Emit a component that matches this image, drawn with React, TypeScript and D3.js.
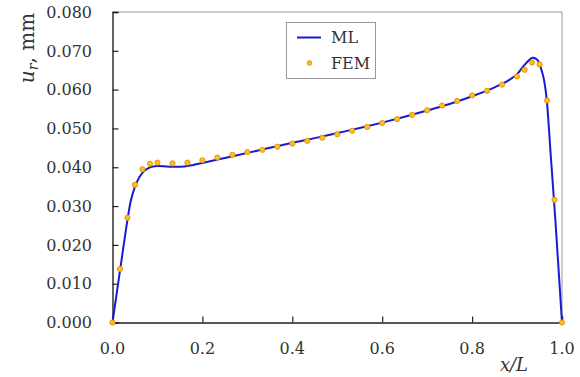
import { useEffect, useRef } from 'react';
import * as d3 from 'd3';

// ML prediction curve
const mlX = [0, 0.01, 0.02, 0.03, 0.04, 0.05, 0.06, 0.07, 0.08, 0.09, 0.1, 0.12, 0.14, 0.16, 0.18, 0.2,
    0.25, 0.3, 0.35, 0.4, 0.45, 0.5, 0.55, 0.6, 0.65, 0.7, 0.75, 0.8, 0.85, 0.88, 0.9, 0.92, 0.935,
    0.945, 0.955, 0.96, 0.966, 0.975, 0.985, 0.995, 1.0];
const mlY = [0, 0.008, 0.016, 0.024, 0.031, 0.035, 0.0375, 0.039, 0.0398, 0.0402, 0.0403, 0.0402,
    0.0401, 0.0402, 0.0406, 0.0411, 0.0424, 0.0437, 0.045, 0.0463, 0.0475, 0.0488, 0.0501, 0.0515,
    0.053, 0.0546, 0.0563, 0.0583, 0.0606, 0.0623, 0.064, 0.0668, 0.0682, 0.0677, 0.0648, 0.0625,
    0.0575, 0.043, 0.0268, 0.009, 0];

// FEM results
const femX = [0, 0.0167, 0.0333, 0.05, 0.0667, 0.0833, 0.1, 0.1333, 0.1667, 0.2, 0.2333, 0.2667, 0.3,
    0.3333, 0.3667, 0.4, 0.4333, 0.4667, 0.5, 0.5333, 0.5667, 0.6, 0.6333, 0.6667, 0.7, 0.7333, 0.7667,
    0.8, 0.8333, 0.8667, 0.9, 0.9167, 0.9333, 0.95, 0.9667, 0.9833, 1.0];
const femY = [0, 0.0138, 0.027, 0.0355, 0.0395, 0.0409, 0.0412, 0.041, 0.0412, 0.0418, 0.0425, 0.0432,
    0.0439, 0.0445, 0.0453, 0.0461, 0.0468, 0.0476, 0.0485, 0.0494, 0.0504, 0.0514, 0.0524, 0.0535,
    0.0547, 0.0559, 0.0571, 0.0585, 0.0597, 0.0613, 0.0634, 0.0651, 0.067, 0.0665, 0.0572, 0.0316, 0];

const xTicks = [0, 0.2, 0.4, 0.6, 0.8, 1.0];
const yTicks = [0, 0.01, 0.02, 0.03, 0.04, 0.05, 0.06, 0.07, 0.08];

const Chart = () => {
    const svgRef = useRef<SVGSVGElement>(null);

    useEffect(() => {
        const svg = d3.select(svgRef.current);
        svg.selectAll('*').remove();

        const left = 112.5, right = 562, top = 12, bottom = 322.5;
        const font = "'DejaVu Serif', serif";

        const x = d3.scaleLinear().domain([0, 1]).range([left, right]);
        const y = d3.scaleLinear().domain([0, 0.08]).range([bottom, top]);

        // frame (top & right)
        svg.append('path')
            .attr('d', `M${left},${top}H${right}V${bottom}`)
            .attr('fill', 'none')
            .attr('stroke', '#999')
            .attr('stroke-width', 1);

        // y axis, ticks inside
        const yAxis = svg.append('g')
            .attr('transform', `translate(${left},0)`)
            .call(d3.axisRight(y).tickValues(yTicks).tickSize(6).tickFormat(() => ''));
        yAxis.select('.domain').attr('stroke', '#222').attr('stroke-width', 1.4);
        yAxis.selectAll('.tick line').attr('stroke', '#222').attr('stroke-width', 1.2);

        svg.append('g').selectAll('text')
            .data(yTicks)
            .enter().append('text')
            .attr('x', 92)
            .attr('y', d => y(d))
            .attr('dy', '0.36em')
            .attr('text-anchor', 'end')
            .attr('font-family', font)
            .attr('font-size', 16)
            .attr('fill', '#333')
            .text(d => d3.format('.3f')(d));

        // x axis, ticks inside
        const xAxis = svg.append('g')
            .attr('transform', `translate(0,${bottom})`)
            .call(d3.axisTop(x).tickValues(xTicks).tickSize(6).tickFormat(() => ''));
        xAxis.select('.domain').attr('stroke', '#222').attr('stroke-width', 1.4);
        xAxis.selectAll('.tick line').attr('stroke', '#222').attr('stroke-width', 1.2);

        svg.append('g').selectAll('text')
            .data(xTicks)
            .enter().append('text')
            .attr('x', d => x(d))
            .attr('y', 354)
            .attr('text-anchor', 'middle')
            .attr('font-family', font)
            .attr('font-size', 16)
            .attr('fill', '#333')
            .text(d => d3.format('.1f')(d));

        // axis titles
        svg.append('text')
            .attr('x', 514)
            .attr('y', 371)
            .attr('text-anchor', 'middle')
            .attr('font-family', font)
            .attr('font-style', 'italic')
            .attr('font-size', 18)
            .attr('fill', '#333')
            .text('x/L');

        const yt = svg.append('text')
            .attr('transform', 'translate(34,48) rotate(-90)')
            .attr('text-anchor', 'middle')
            .attr('font-family', font)
            .attr('font-size', 20)
            .attr('fill', '#333');
        yt.append('tspan').attr('font-style', 'italic').text('u');
        yt.append('tspan').attr('font-style', 'italic').attr('font-size', 14).attr('dy', 4).text('r');
        yt.append('tspan').attr('dy', -4).text(', mm');

        // ML line
        const line = d3.line<number>()
            .x((d, i) => x(mlX[i]))
            .y(d => y(d))
            .curve(d3.curveMonotoneX);
        svg.append('path')
            .datum(mlY)
            .attr('d', line)
            .attr('fill', 'none')
            .attr('stroke', '#1a1ad2')
            .attr('stroke-width', 2);

        // FEM points
        svg.append('g').selectAll('circle')
            .data(femY)
            .enter().append('circle')
            .attr('cx', (d, i) => x(femX[i]))
            .attr('cy', d => y(d))
            .attr('r', 2.6)
            .attr('fill', '#fcc21a')
            .attr('stroke', '#e08e0b')
            .attr('stroke-width', 0.9);

        // legend
        const lg = svg.append('g');
        lg.append('rect')
            .attr('x', 286.5).attr('y', 22.5)
            .attr('width', 89).attr('height', 56)
            .attr('fill', '#fff')
            .attr('stroke', '#999');
        lg.append('line')
            .attr('x1', 297).attr('x2', 321)
            .attr('y1', 37.5).attr('y2', 37.5)
            .attr('stroke', '#1a1ad2')
            .attr('stroke-width', 2);
        lg.append('circle')
            .attr('cx', 309.5).attr('cy', 63)
            .attr('r', 2.3)
            .attr('fill', '#fcc21a')
            .attr('stroke', '#e08e0b')
            .attr('stroke-width', 0.9);
        lg.append('text')
            .attr('x', 331).attr('y', 43)
            .attr('font-family', font).attr('font-size', 16).attr('fill', '#333')
            .text('ML');
        lg.append('text')
            .attr('x', 331).attr('y', 69)
            .attr('font-family', font).attr('font-size', 16).attr('fill', '#333')
            .text('FEM');
    }, []);

    return (
        <svg ref={svgRef} width={580} height={377}
            style={{ position: 'absolute', left: 0, top: 0, background: '#fff' }} />
    );
};

export default function App() {
    return <Chart />;
}
